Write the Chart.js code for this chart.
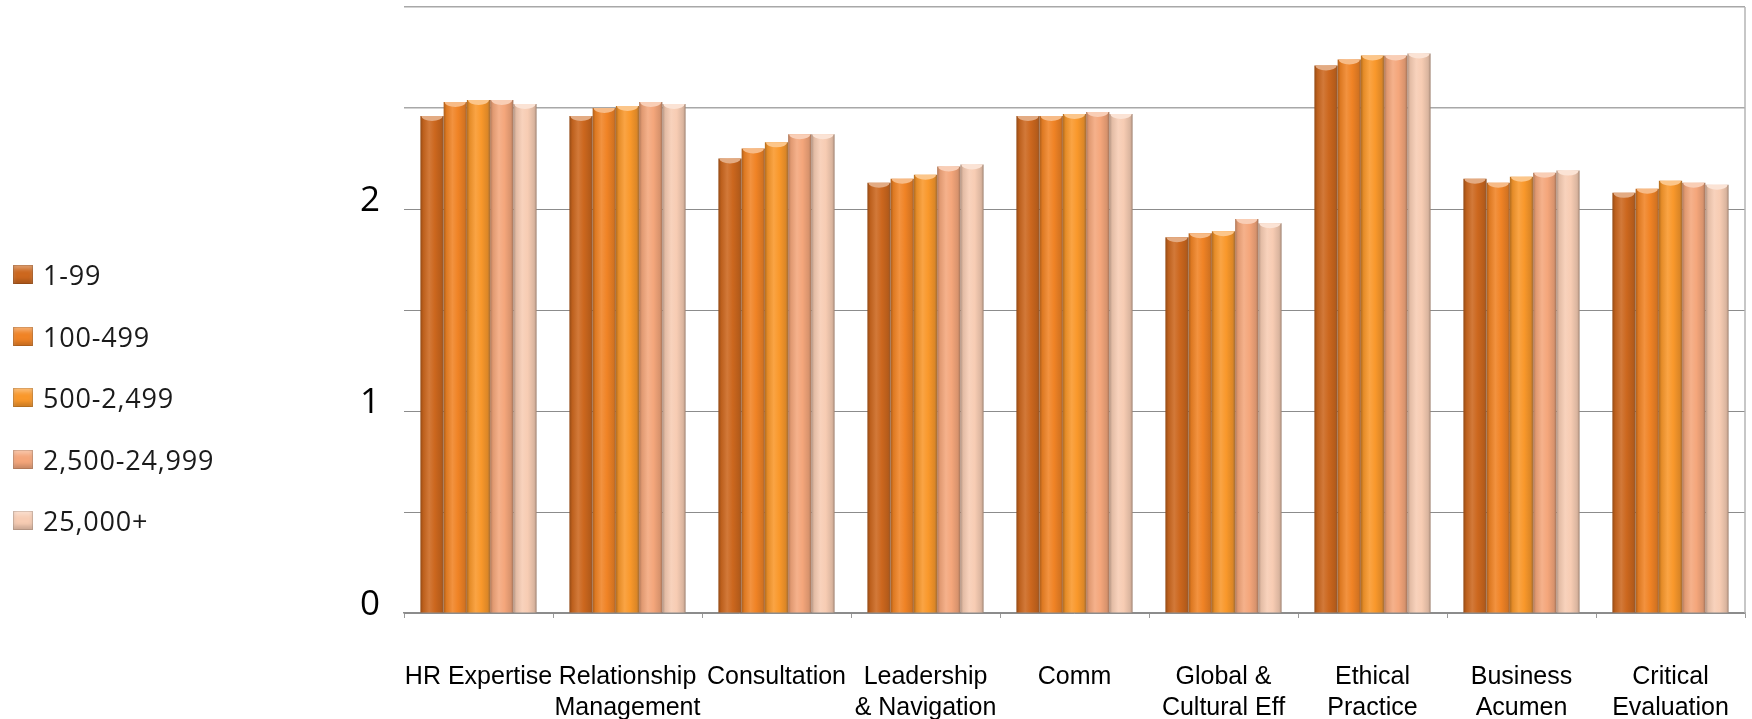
<!DOCTYPE html>
<html>
<head>
<meta charset="utf-8">
<script src="https://cdn.jsdelivr.net/npm/chart.js@4.4.1/dist/chart.umd.min.js"></script>
<style>
  html, body { margin: 0; padding: 0; background: #fff; overflow: hidden; }
  #wrap { position: relative; width: 1752px; height: 719px; }
  #legend { position: absolute; left: 13px; top: 261px; font-family: 'Open Sans', sans-serif; font-size: 27px; letter-spacing: 0.8px; color: #1a1a1a; }
  #legend .item { display: flex; align-items: center; height: 27px; margin-bottom: 34.5px; }
  #legend .swatch { width: 20px; height: 19px; margin-right: 10px; box-shadow: inset 0 0 0 1px rgba(0,0,0,0.12), inset 0 -4px 4px rgba(0,0,0,0.18), inset 0 4px 4px rgba(255,255,255,0.35); }
</style>
</head>
<body>
<div id="wrap">
  <canvas id="competencyChart" width="1752" height="719"></canvas>
  <div id="legend"></div>
</div>
<script>
// Competency ratings by organisation size
const categories = [
    'HR Expertise', ['Relationship', 'Management'], 'Consultation', ['Leadership', '& Navigation'],
    'Comm', ['Global &', 'Cultural Eff'], ['Ethical', 'Practice'], ['Business', 'Acumen'], ['Critical', 'Evaluation']
];
const sizeLabels = ['1-99', '100-499', '500-2,499', '2,500-24,999', '25,000+'];

const size1to99 = [2.46, 2.46, 2.25, 2.13, 2.46, 1.86, 2.71, 2.15, 2.08];
const size100to499 = [2.53, 2.50, 2.30, 2.15, 2.46, 1.88, 2.74, 2.13, 2.10];
const size500to2499 = [2.54, 2.51, 2.33, 2.17, 2.47, 1.89, 2.76, 2.16, 2.14];
const size2500to24999 = [2.54, 2.53, 2.37, 2.21, 2.48, 1.95, 2.76, 2.18, 2.13];
const size25000plus = [2.52, 2.52, 2.37, 2.22, 2.47, 1.93, 2.77, 2.19, 2.12];

const seriesValues = [size1to99, size100to499, size500to2499, size2500to24999, size25000plus];
const seriesColors = ['#cc671e', '#f08325', '#f9982b', '#f4a67b', '#f7ccb3'];

function mix(hex, other, t) {
    const a = parseInt(hex.slice(1), 16), b = parseInt(other.slice(1), 16);
    const ch = (v, s) => (v >> s) & 255;
    const m = s => Math.round(ch(a, s) * (1 - t) + ch(b, s) * t);
    return `rgb(${m(16)}, ${m(8)}, ${m(0)})`;
}

// cylinder look: horizontal shading on each bar plus a concave cap
const barShade = {
    id: 'barShade',
    beforeDatasetsDraw(chart) {
        const ctx = chart.ctx;
        chart.data.datasets.forEach((ds, di) => {
            const c = seriesColors[di];
            chart.getDatasetMeta(di).data.forEach(bar => {
                const { x, width } = bar.getProps(['x', 'width'], true);
                const left = x - width / 2;
                const g = ctx.createLinearGradient(left, 0, left + width, 0);
                g.addColorStop(0, mix(c, '#000000', 0.28));
                g.addColorStop(0.12, mix(c, '#000000', 0.08));
                g.addColorStop(0.38, mix(c, '#ffffff', 0.12));
                g.addColorStop(0.62, c);
                g.addColorStop(0.9, mix(c, '#000000', 0.12));
                g.addColorStop(1, mix(c, '#5a4a40', 0.55));
                bar.options = Object.assign({}, bar.options, { backgroundColor: g });
            });
        });
    },
    afterDatasetsDraw(chart) {
        const ctx = chart.ctx;
        chart.data.datasets.forEach((ds, di) => {
            const c = seriesColors[di];
            chart.getDatasetMeta(di).data.forEach(bar => {
                const { x, y, width } = bar.getProps(['x', 'y', 'width'], true);
                ctx.save();
                ctx.beginPath();
                ctx.rect(x - width / 2, y, width, 7);
                ctx.clip();
                ctx.beginPath();
                ctx.ellipse(x, y, width / 2 - 1, 5, 0, 0, Math.PI * 2);
                ctx.fillStyle = mix(c, '#ffffff', 0.45);
                ctx.fill();
                ctx.restore();
            });
        });
    }
};

// right-hand frame edge
const frameEdge = {
    id: 'frameEdge',
    afterDraw(chart) {
        const { ctx, chartArea } = chart;
        ctx.save();
        ctx.strokeStyle = '#b4b4b4';
        ctx.lineWidth = 1.5;
        ctx.beginPath();
        ctx.moveTo(chartArea.right, chartArea.top);
        ctx.lineTo(chartArea.right, chartArea.bottom);
        ctx.stroke();
        ctx.restore();
    }
};

const chart = new Chart(document.getElementById('competencyChart').getContext('2d'), {
    type: 'bar',
    data: {
        labels: categories,
        datasets: seriesValues.map((vals, i) => ({
            label: sizeLabels[i],
            data: vals,
            backgroundColor: seriesColors[i],
            borderWidth: 0,
            categoryPercentage: 0.78,
            barPercentage: 1
        }))
    },
    options: {
        responsive: false,
        animation: false,
        layout: { padding: { left: 0, right: 7, top: 7, bottom: 0 } },
        plugins: {
            legend: { display: false },
            tooltip: { enabled: false }
        },
        scales: {
            x: {
                grid: { offset: true, drawOnChartArea: false, tickLength: 5, color: '#9a9a9a' },
                border: { display: true, color: '#8c8c8c', width: 1.5 },
                ticks: {
                    color: '#000',
                    padding: 43,
                    maxRotation: 0,
                    autoSkip: false,
                    font: { family: "'Liberation Sans', Arial, sans-serif", size: 25, lineHeight: 1.25 }
                },
                afterFit(scale) {
                    scale.height = 106;
                    scale.paddingLeft = 0;
                    scale.paddingRight = 0;
                }
            },
            y: {
                min: 0,
                max: 3,
                grid: {
                    drawTicks: false,
                    color: ctx => ctx.tick && ctx.tick.value >= 2.5 ? '#a8a8a8' : '#8c8c8c',
                    lineWidth: ctx => ctx.tick && ctx.tick.value >= 2.5 ? 1.5 : 1
                },
                border: { display: false },
                ticks: {
                    stepSize: 0.5,
                    padding: 24,
                    labelOffset: -8,
                    color: '#000',
                    font: { family: "'Open Sans', sans-serif", size: 35 },
                    callback: v => (Number.isInteger(v) && v < 3) ? String(v) : ''
                },
                afterFit(scale) {
                    scale.width = 404;
                    scale.paddingTop = 0;
                    scale.paddingBottom = 0;
                }
            }
        }
    },
    plugins: [barShade, frameEdge]
});

// legend built from the chart's own datasets
const legendEl = document.getElementById('legend');
chart.data.datasets.forEach((ds, i) => {
    const item = document.createElement('div');
    item.className = 'item';
    const sw = document.createElement('span');
    sw.className = 'swatch';
    sw.style.background = seriesColors[i];
    const txt = document.createElement('span');
    txt.textContent = ds.label;
    item.appendChild(sw);
    item.appendChild(txt);
    legendEl.appendChild(item);
});
</script>
</body>
</html>
